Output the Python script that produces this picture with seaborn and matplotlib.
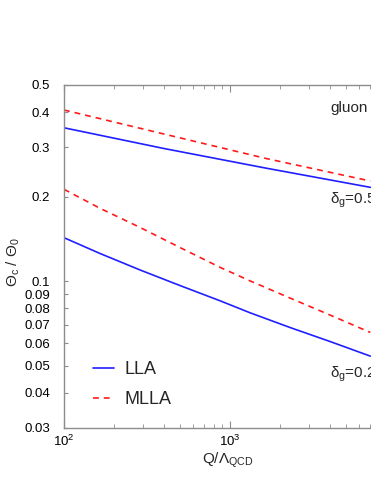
import matplotlib
matplotlib.use("Agg")
import matplotlib.pyplot as plt
import seaborn as sns
import pandas as pd
from matplotlib.ticker import FixedLocator, FixedFormatter, LogLocator, NullFormatter

# ---- data ----
q_upper = [100, 400, 1660, 7000]
lla_d05 = [0.352, 0.297, 0.2526, 0.216]
mlla_d05 = [0.4073, 0.3345, 0.2734, 0.2275]
q_lower = [100, 165, 290, 500, 870, 1320, 2300, 4000, 7000]
lla_d025 = [0.1429, 0.1255, 0.1094, 0.0965, 0.0852, 0.0772, 0.0684, 0.0610, 0.0541]
mlla_d025 = [0.2125, 0.1818, 0.1550, 0.1318, 0.1121, 0.1003, 0.0871, 0.0758, 0.0657]
y_ticks = [0.03, 0.04, 0.05, 0.06, 0.07, 0.08, 0.09, 0.1, 0.2, 0.3, 0.4, 0.5]
y_tick_labels = ["0.03", "0.04", "0.05", "0.06", "0.07", "0.08", "0.09",
                 "0.1", "0.2", "0.3", "0.4", "0.5"]
x_major_ticks = [100, 1000]
x_tick_labels = [r"$10^{2}$", r"$10^{3}$"]
series_names = ["LLA", "MLLA"]

sns.set_style("ticks")
plt.rcParams["font.family"] = ["Liberation Sans", "DejaVu Sans"]
plt.rcParams["mathtext.fontset"] = "custom"
plt.rcParams["mathtext.rm"] = "Liberation Sans"
plt.rcParams["mathtext.it"] = "Liberation Sans:italic"
plt.rcParams["mathtext.bf"] = "Liberation Sans:bold"

rows = []
for d, qs, lla, mlla in [("0.5", q_upper, lla_d05, mlla_d05),
                         ("0.25", q_lower, lla_d025, mlla_d025)]:
    for x, a, b in zip(qs, lla, mlla):
        rows.append({"Q": x, "theta": a, "method": "LLA", "delta": d})
        rows.append({"Q": x, "theta": b, "method": "MLLA", "delta": d})
df = pd.DataFrame(rows)

W, H = 371, 480
fig = plt.figure(figsize=(W / 100, H / 100), dpi=100)
ax = fig.add_axes([64 / W, 52 / H, 332 / W, 343 / H])
ax.set_xscale("log")
ax.set_yscale("log")

colors = {"LLA": "#1f1fff", "MLLA": "#ff1a1a"}
styles = {"LLA": "-", "MLLA": (0, (3.5, 3))}
for name in series_names:
    for d in ["0.5", "0.25"]:
        sub = df[(df.method == name) & (df.delta == d)]
        sns.lineplot(data=sub, x="Q", y="theta", ax=ax, color=colors[name],
                     linestyle=styles[name], linewidth=1.2, estimator=None,
                     sort=True, label=name if d == "0.5" else None)

ax.set_xlim(100, 10000)
ax.set_ylim(0.03, 0.5)
ax.yaxis.set_major_locator(FixedLocator(y_ticks))
ax.yaxis.set_major_formatter(FixedFormatter(y_tick_labels))
ax.yaxis.set_minor_locator(FixedLocator([]))
ax.xaxis.set_major_locator(FixedLocator(x_major_ticks))
ax.xaxis.set_major_formatter(FixedFormatter(x_tick_labels))
ax.xaxis.set_minor_locator(LogLocator(base=10, subs=range(2, 10)))
ax.xaxis.set_minor_formatter(NullFormatter())

spine_c = "#8c8c8c"
for s in ["left", "bottom", "top"]:
    ax.spines[s].set_color(spine_c)
    ax.spines[s].set_linewidth(1.0)
ax.spines["right"].set_visible(False)
ax.tick_params(axis="both", which="both", direction="in", color=spine_c,
               labelsize=9.5, labelcolor="black")
ax.tick_params(axis="x", which="both", top=True)
ax.tick_params(axis="y", which="both", right=False, pad=10)
ax.tick_params(axis="x", which="major", length=5, pad=4)
ax.tick_params(axis="x", which="minor", length=3)
ax.tick_params(axis="y", which="major", length=3)
ax.set_xlabel("")
ax.set_ylabel("")

leg = ax.legend(loc="upper left", bbox_to_anchor=(93 / W, 1 - 361.5 / H),
                bbox_transform=fig.transFigure, frameon=False, fontsize=13,
                handlelength=1.15, handletextpad=0.6, labelspacing=0.72,
                borderpad=0, borderaxespad=0)

fig.text(330 / W, 1 - 108 / H, "gluon", fontsize=11, ha="left", va="center")
fig.text(330 / W, 1 - 200 / H, r"δ$_{\rm g}$=0.5", fontsize=11, ha="left", va="center")
fig.text(330 / W, 1 - 374 / H, r"δ$_{\rm g}$=0.25", fontsize=11, ha="left", va="center")
fig.text(13 / W, 1 - 262 / H, r"Θ$_{\rm c}$ / Θ$_{\rm 0}$", fontsize=11,
         rotation=90, ha="center", va="center")
fig.text(228 / W, 1 - 460 / H, r"Q/Λ$_{\rm QCD}$", fontsize=11, ha="center", va="center")

fig.savefig("out.png", dpi=100)
